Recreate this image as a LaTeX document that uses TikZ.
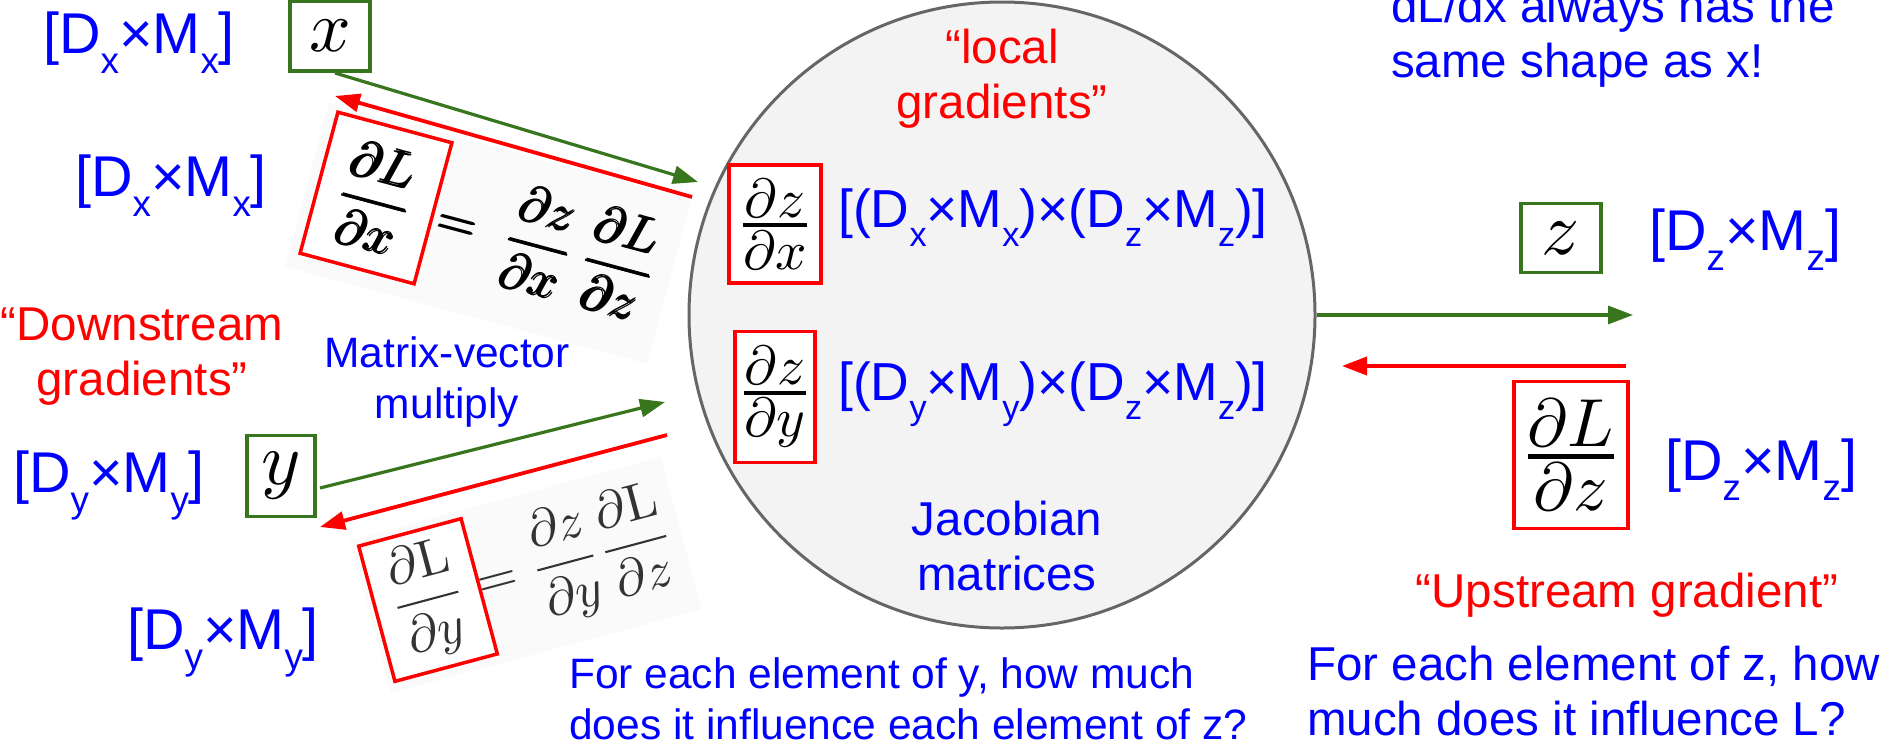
\documentclass[tikz,border=0pt]{standalone}
\usepackage{amsmath}
\usepackage{graphicx}
\usepackage[no-math]{fontspec}
\setmainfont{Liberation Sans}
\usetikzlibrary{arrows.meta}
\definecolor{ggreen}{HTML}{38761D}
\definecolor{cfill}{HTML}{F3F3F3}
\definecolor{cdraw}{HTML}{666666}
\definecolor{tblue}{HTML}{0000FF}
\definecolor{tred}{HTML}{FF0000}
\newcommand{\subs}[1]{\raisebox{-0.36em}{\scalebox{0.64}{#1}}}
\newcommand{\dimlab}[2]{[D\subs{#1}×M\subs{#2}]}
\newcommand{\fbig}{\fontsize{47.5}{55}\selectfont}
\newcommand{\fmid}{\fontsize{42.5}{51}\selectfont}
\newcommand{\fdim}{\fontsize{57.5}{60}\selectfont}
\newcommand{\frow}{\fontsize{53.5}{60}\selectfont}
\newcommand{\mymath}[2]{\scalebox{#1}{$\displaystyle #2$}}
\newcommand{\myfr}[2]{\genfrac{}{}{0.7pt}{1}{\displaystyle #1}{\displaystyle #2}}
\newcommand{\fdLdx}{\mymath{5.1}{\pmb{\frac{\partial L}{\partial x}}}}
\newcommand{\feqx}{\mymath{5.1}{\pmb{=}\;\pmb{\frac{\partial z}{\partial x}}\,\pmb{\frac{\partial L}{\partial z}}}}
\newcommand{\fdLdy}{\mymath{5.2}{\frac{\partial\mathrm{L}}{\partial y}}}
\newcommand{\feqy}{\mymath{5.2}{=\frac{\partial z}{\partial y}\frac{\partial\mathrm{L}}{\partial z}}}
\newcommand{\fdzdx}{\mymath{5.5}{\myfr{\partial z}{\partial x}}}
\newcommand{\fdzdy}{\mymath{5.5}{\myfr{\partial z}{\partial y}}}
\newcommand{\fdLdz}{\mymath{6.8}{\myfr{\partial L}{\partial z}}}
\begin{document}
\begin{tikzpicture}[x=1pt,y=-1pt,
  gbox/.style={draw=ggreen, line width=3.5pt, fill=white, inner sep=0pt},
  rbox/.style={draw=tred, line width=3.5pt, fill=white, inner sep=0pt},
  garrow/.style={draw=ggreen, line width=3.2pt, -{Triangle[length=25pt,width=18pt]}},
  rarrow/.style={draw=tred, line width=3.8pt, -{Triangle[length=25pt,width=18pt]}},
  bluetxt/.style={text=tblue, inner sep=0pt},
  redtxt/.style={text=tred, inner sep=0pt},
  fbg/.style={fill=black!2}
]
\useasboundingbox (0,0) rectangle (1886,745);

\node[circle, draw=cdraw, fill=cfill, line width=3pt, minimum size=626pt, inner sep=0pt] (op) at (1002,315) {};

\begin{scope}[shift={(376,198)}, rotate=-15, transform shape]
  \fill[fbg] (-70,-80) rectangle (305,90);
  \node[rbox, minimum width=118pt, minimum height=146pt] (dLdx) at (0,0) {\fdLdx};
  \node[anchor=west, inner sep=0pt] (eqx) at (66,0) {\feqx};
\end{scope}

\begin{scope}[shift={(428,600)}, rotate=15, transform shape]
  \fill[fbg] (-60,-78) rectangle (262,80);
  \node[rbox, minimum width=106pt, minimum height=140pt, text=black!80] (dLdy) at (0,0) {\fdLdy};
  \node[anchor=west, inner sep=0pt, text=black!80] (eqy) at (52,0) {\feqy};
\end{scope}

\node[gbox, minimum width=80pt, minimum height=70pt] (xb) at (330,36) {\mymath{7.3}{x}};
\node[gbox, minimum width=68pt, minimum height=81pt] (yb) at (281,476) {\mymath{7.5}{y}};
\node[gbox, minimum width=80pt, minimum height=69pt] (zb) at (1561,238) {\mymath{7.5}{z}};

\node[rbox, minimum width=92pt, minimum height=118pt] (dzdx) at (775,224) {\fdzdx};
\node[rbox, minimum width=80pt, minimum height=131pt] (dzdy) at (775,397) {\fdzdy};
\node[rbox, minimum width=114pt, minimum height=147pt] (dLdz) at (1571,455) {\fdLdz};

\node[bluetxt, anchor=base west, font=\fdim] (dx1) at (43,53) {\dimlab{x}{x}};
\node[bluetxt, anchor=base west, font=\fdim] (dx2) at (75,196) {\dimlab{x}{x}};
\node[bluetxt, anchor=base west, font=\fdim] (dy1) at (13,492) {\dimlab{y}{y}};
\node[bluetxt, anchor=base west, font=\fdim] (dy2) at (127,649) {\dimlab{y}{y}};
\node[bluetxt, anchor=base west, font=\fdim] (dz1) at (1649,250) {\dimlab{z}{z}};
\node[bluetxt, anchor=base west, font=\fdim] (dz2) at (1665,480) {\dimlab{z}{z}};
\node[bluetxt, anchor=base west, font=\frow] (row1) at (838,227) {[(D\subs{x}×M\subs{x})×(D\subs{z}×M\subs{z})]};
\node[bluetxt, anchor=base west, font=\frow] (row2) at (838,400) {[(D\subs{y}×M\subs{y})×(D\subs{z}×M\subs{z})]};

\node[redtxt, anchor=north, align=center, font=\fbig] (down) at (142,308) {“Downstream\\gradients”};
\node[redtxt, anchor=north, align=center, font=\fbig] (local) at (1002,29) {“local\\gradients”};
\node[bluetxt, anchor=north, align=center, font=\fmid] (mv) at (447,336) {Matrix-vector\\multiply};
\node[bluetxt, anchor=north, align=center, font=\fbig] (jac) at (1007,501) {Jacobian\\matrices};
\node[bluetxt, anchor=north west, align=left, font=\fmid] (qy) at (569,657) {For each element of y, how much\\does it influence each element of z?};
\node[bluetxt, anchor=north west, align=left, font=\fbig] (qz) at (1307,646) {For each element of z, how\\much does it influence L?};
\node[bluetxt, anchor=north west, align=left, font=\fbig] (shape) at (1391,-12) {dL/dx always has the\\same shape as x!};
\node[redtxt, anchor=base, font=\fbig] (up) at (1627,607) {“Upstream gradient”};

\coordinate (xg1) at (335,73);  \coordinate (xg2) at (698,182);
\coordinate (xr1) at (692,197); \coordinate (xr2) at (335,96);
\coordinate (yg1) at (320,488); \coordinate (yg2) at (665,402);
\coordinate (yr1) at (667,435); \coordinate (yr2) at (320,527);
\coordinate (zg2) at (1633,315);
\coordinate (zr1) at (1626,366); \coordinate (zr2) at (1342,366);
\draw[garrow] (xg1) -- (xg2);
\draw[rarrow] (xr1) -- (xr2);
\draw[garrow] (yg1) -- (yg2);
\draw[rarrow] (yr1) -- (yr2);
\draw[garrow] (op.east) -- (zg2);
\draw[rarrow] (zr1) -- (zr2);
\end{tikzpicture}
\end{document}
